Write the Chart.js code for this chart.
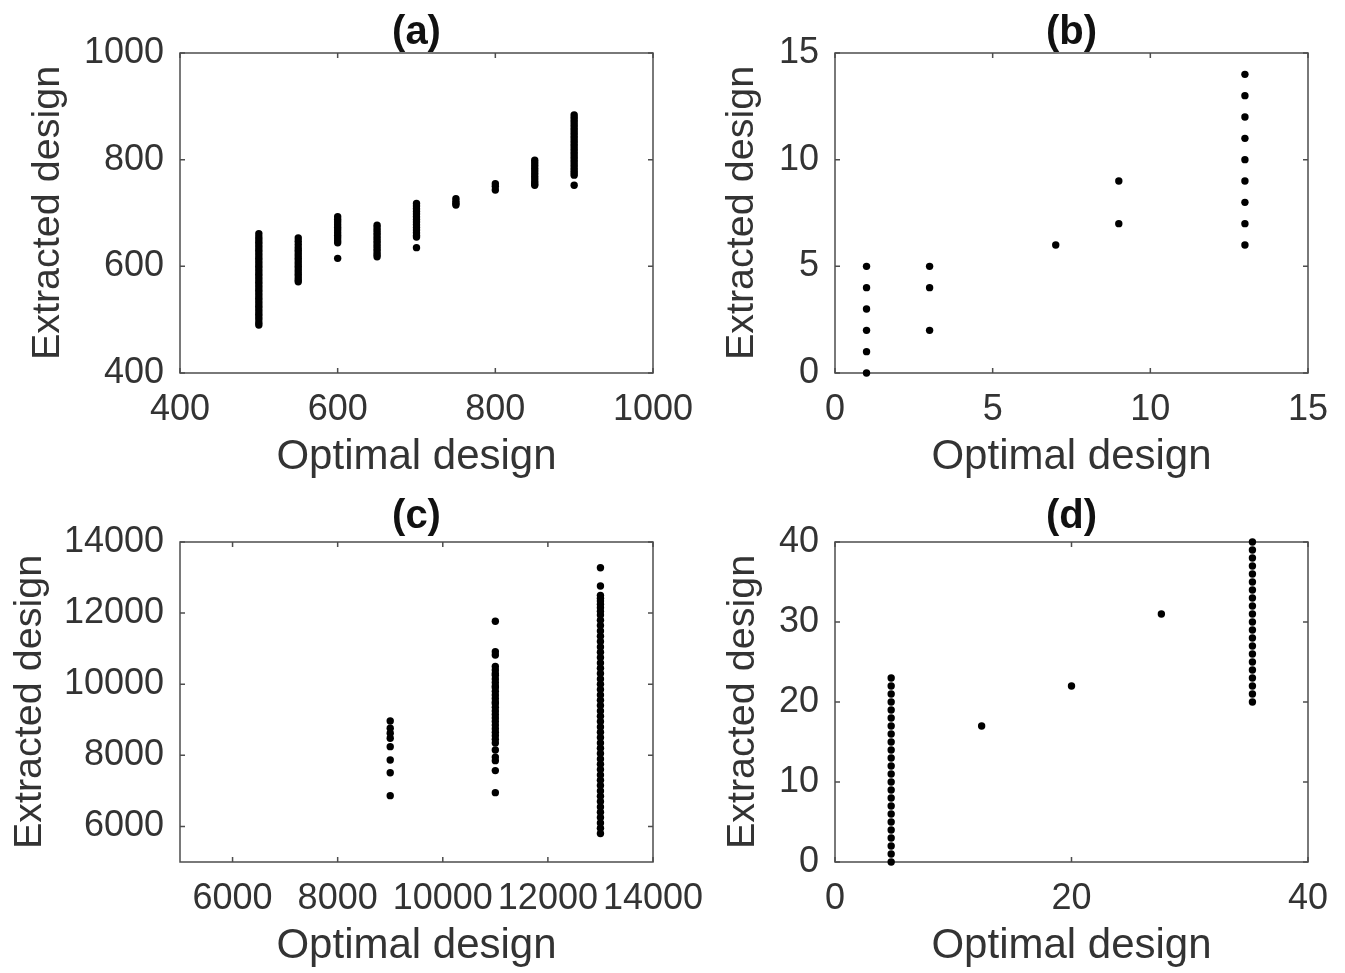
<!DOCTYPE html>
<html lang="en">
<head>
  <meta charset="UTF-8">
  <title>Optimal vs extracted design</title>
  <script src="https://cdn.jsdelivr.net/npm/chart.js"></script>
  <style>
    body { margin: 0; background: #fff; }
    #wrap { position: relative; width: 1345px; height: 973px; }
    canvas { position: absolute; }
  </style>
</head>
<body>
<div id="wrap">
  <canvas id="pb" width="673" height="486" style="left:672px;top:0"></canvas>
  <canvas id="pd" width="673" height="487" style="left:672px;top:486px"></canvas>
  <canvas id="pa" width="730" height="486" style="left:0;top:0"></canvas>
  <canvas id="pc" width="730" height="487" style="left:0;top:486px"></canvas>
</div>

<script>
  // (a)
  const aOptimal = [500, 550, 600, 650, 700, 750, 800, 850, 900];
  const aExtracted = [
    [661, 655, 650, 645, 640, 635, 630, 625, 620, 615, 610, 605, 600, 595, 590, 585, 580, 575, 570,
     565, 560, 555, 550, 545, 540, 535, 530, 525, 520, 515, 510, 505, 500, 494, 490],
    [653, 647, 641, 635, 630, 625, 620, 615, 610, 605, 600, 595, 590, 585, 580, 575, 571],
    [693, 688, 683, 678, 673, 668, 663, 658, 653, 648, 644, 615],
    [677, 672, 667, 662, 657, 652, 647, 642, 637, 632, 627, 622, 618],
    [718, 713, 708, 703, 698, 693, 688, 683, 678, 673, 668, 663, 658, 655, 635],
    [727, 722, 718, 715],
    [755, 750, 743],
    [799, 794, 789, 784, 779, 774, 769, 764, 759, 755, 752],
    [884, 879, 874, 869, 864, 859, 854, 849, 844, 839, 834, 829, 824, 819, 814, 809, 804, 799,
     794, 789, 784, 779, 775, 771, 752]
  ];
  const aXTicks = [400, 600, 800, 1000];
  const aYTicks = [400, 600, 800, 1000];

  // (b)
  const bOptimal = [1, 3, 7, 9, 13];
  const bExtracted = [
    [0, 1, 2, 3, 4, 5],
    [2, 4, 5],
    [6],
    [7, 9],
    [6, 7, 8, 9, 10, 11, 12, 13, 14]
  ];
  const bXTicks = [0, 5, 10, 15];
  const bYTicks = [0, 5, 10, 15];

  // (c)
  const cOptimal = [9000, 11000, 13000];
  const cExtracted = [
    [8966, 8761, 8620, 8480, 8244, 7869, 7512, 6866],
    [11770, 10915, 10822, 10500, 10400, 10300, 10250, 10150, 10050, 9950, 9900, 9800, 9700, 9600,
     9500, 9450, 9350, 9250, 9150, 9050, 8950, 8850, 8750, 8650, 8550, 8450, 8350, 8150, 7950,
     7850, 7570, 6950],
    [13277, 12763, 12500, 12420, 12340, 12250, 12150, 12050, 11950, 11800, 11650, 11500, 11350,
     11200, 11050, 10900, 10750, 10600, 10450, 10300, 10150, 10000, 9850, 9700, 9550, 9400, 9250,
     9100, 8950, 8800, 8650, 8500, 8350, 8200, 8050, 7900, 7750, 7600, 7450, 7300, 7150, 7000,
     6850, 6700, 6550, 6400, 6250, 6100, 5950, 5800]
  ];
  const cXTicks = [6000, 8000, 10000, 12000, 14000];
  const cYTicks = [6000, 8000, 10000, 12000, 14000];

  // (d)
  const dOptimal = [4.75, 12.4, 20, 27.6, 35.3];
  const dExtracted = [
    [0, 1, 2, 3, 4, 5, 6, 7, 8, 9, 10, 11, 12, 13, 14, 15, 16, 17, 18, 19, 20, 21, 22, 23],
    [17],
    [22],
    [31],
    [20, 21, 22, 23, 24, 25, 26, 27, 28, 29, 30, 31, 32, 33, 34, 35, 36, 37, 38, 39, 40]
  ];
  const dXTicks = [0, 20, 40];
  const dYTicks = [0, 10, 20, 30, 40];

  const TEXT = '#333333';
  const AXIS = '#4d4d4d';
  const FONT = '"Liberation Sans", Arial, sans-serif';
  const TICK = 5;

  // box around the plot, inward ticks on all four sides, bold panel title
  const frame = {
    id: 'frame',
    beforeDatasetsDraw(chart, args, opts) {
      const { ctx, chartArea: a, scales: { x, y } } = chart;
      ctx.save();
      ctx.strokeStyle = AXIS;
      ctx.lineWidth = 1.5;
      ctx.strokeRect(a.left, a.top, a.right - a.left, a.bottom - a.top);
      ctx.beginPath();
      x.ticks.forEach(t => {
        const px = x.getPixelForValue(t.value);
        ctx.moveTo(px, a.bottom); ctx.lineTo(px, a.bottom - TICK);
        ctx.moveTo(px, a.top); ctx.lineTo(px, a.top + TICK);
      });
      y.ticks.forEach(t => {
        const py = y.getPixelForValue(t.value);
        ctx.moveTo(a.left, py); ctx.lineTo(a.left + TICK, py);
        ctx.moveTo(a.right, py); ctx.lineTo(a.right - TICK, py);
      });
      ctx.stroke();
      ctx.fillStyle = '#111';
      ctx.font = 'bold 40px ' + FONT;
      ctx.textAlign = 'center';
      ctx.textBaseline = 'middle';
      ctx.fillText(opts.title, (a.left + a.right) / 2, opts.titleY);
      ctx.restore();
    }
  };

  function toPoints(xs, ys) {
    return xs.flatMap((x, i) => ys[i].map(v => ({ x: x, y: v })));
  }

  function panel(id, title, xs, ys, xTicks, yTicks, box) {
    const cv = document.getElementById(id);
    const W = cv.width, H = cv.height;
    const tickFont = { family: FONT, size: 36, lineHeight: 1.2 };
    return new Chart(cv, {
      type: 'scatter',
      data: {
        datasets: [{
          data: toPoints(xs, ys),
          backgroundColor: '#000',
          borderWidth: 0,
          pointRadius: 3.7,
          clip: false
        }]
      },
      options: {
        responsive: false,
        animation: false,
        layout: { padding: { left: 0, top: box.top, right: W - box.right, bottom: 0 } },
        plugins: {
          legend: { display: false },
          tooltip: { enabled: false },
          frame: { title: title, titleY: box.titleY }
        },
        scales: {
          x: {
            type: 'linear',
            min: xTicks[0] - (box.xLead || 0),
            max: xTicks[xTicks.length - 1],
            grid: { display: false, drawTicks: false },
            border: { display: false },
            afterBuildTicks: s => { s.ticks = xTicks.map(v => ({ value: v })); },
            afterFit: s => { s.height = H - box.bottom; s.paddingLeft = 0; s.paddingRight = 0; },
            ticks: { padding: 15, color: TEXT, font: tickFont, maxRotation: 0, autoSkip: false,
                     callback: v => String(v) },
            title: { display: true, text: 'Optimal design', color: TEXT,
                     font: { family: FONT, size: 42, lineHeight: 1.2 },
                     padding: { top: 0, bottom: box.xTitlePad } }
          },
          y: {
            type: 'linear',
            min: yTicks[0] - (box.yLead || 0),
            max: yTicks[yTicks.length - 1],
            grid: { display: false, drawTicks: false },
            border: { display: false },
            afterBuildTicks: s => { s.ticks = yTicks.map(v => ({ value: v })); },
            afterFit: s => { s.width = box.left; s.paddingTop = 0; s.paddingBottom = 0; },
            ticks: { padding: 16, color: TEXT, font: tickFont, autoSkip: false,
                     callback: v => String(v) },
            title: { display: true, text: 'Extracted design', color: TEXT,
                     font: { family: FONT, size: 39.5, lineHeight: 1.2 },
                     padding: { top: box.yTitlePad, bottom: 0 } }
          }
        }
      },
      plugins: [frame]
    });
  }

  panel('pa', '(a)', aOptimal, aExtracted, aXTicks, aYTicks,
    { left: 180, right: 653, top: 53, bottom: 373, titleY: 33, xTitlePad: 3.4, yTitlePad: 24.8 });
  panel('pb', '(b)', bOptimal, bExtracted, bXTicks, bYTicks,
    { left: 163, right: 636, top: 53, bottom: 373, titleY: 33, xTitlePad: 3.4, yTitlePad: 46.8 });
  panel('pc', '(c)', cOptimal, cExtracted, cXTicks, cYTicks,
    { left: 180, right: 653, top: 56, bottom: 376, titleY: 31, xTitlePad: 1.4, yTitlePad: 6.1,
      xLead: 1000, yLead: 1000 });
  panel('pd', '(d)', dOptimal, dExtracted, dXTicks, dYTicks,
    { left: 163, right: 636, top: 56, bottom: 376, titleY: 31, xTitlePad: 1.4, yTitlePad: 47.3 });
</script>
</body>
</html>
